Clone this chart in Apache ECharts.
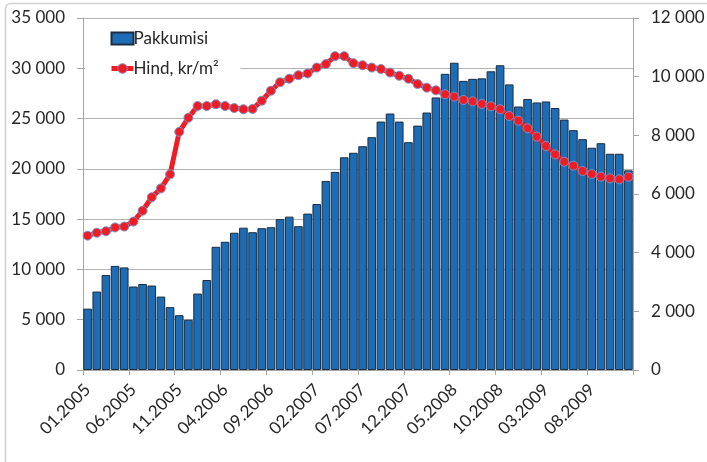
<!DOCTYPE html>
<html><head><meta charset="utf-8">
<script src="https://cdn.jsdelivr.net/npm/echarts@6/dist/echarts.min.js"></script>
<style>html,body{margin:0;padding:0;background:#fff}#c{width:707px;height:462px}</style>
</head><body><div id="c"></div>
<script>
const categories = [
 '01.2005','02.2005','03.2005','04.2005','05.2005','06.2005','07.2005','08.2005','09.2005','10.2005','11.2005','12.2005',
 '01.2006','02.2006','03.2006','04.2006','05.2006','06.2006','07.2006','08.2006','09.2006','10.2006','11.2006','12.2006',
 '01.2007','02.2007','03.2007','04.2007','05.2007','06.2007','07.2007','08.2007','09.2007','10.2007','11.2007','12.2007',
 '01.2008','02.2008','03.2008','04.2008','05.2008','06.2008','07.2008','08.2008','09.2008','10.2008','11.2008','12.2008',
 '01.2009','02.2009','03.2009','04.2009','05.2009','06.2009','07.2009','08.2009','09.2009','10.2009','11.2009','12.2009'];
const pakkumisi = [
 6100,7800,9450,10350,10200,8300,8550,8400,7300,6250,5450,5000,
 7600,8950,12250,12750,13650,14150,13700,14100,14200,15000,15250,14300,
 15550,16500,18800,19700,21150,21600,22250,23150,24700,25500,24700,22650,
 24300,25600,27100,29450,30550,28750,28950,29000,29700,30300,28400,26200,
 26950,26600,26700,26050,24900,23850,22950,22100,22550,21500,21500,19850];
const hind = [
 4580,4680,4730,4860,4890,5060,5430,5890,6190,6670,8120,8600,
 9000,9000,9060,9000,8930,8890,8900,9180,9520,9810,9930,10050,
 10110,10310,10430,10700,10700,10460,10390,10310,10260,10140,10030,9930,
 9750,9625,9535,9400,9320,9205,9160,9070,8990,8890,8660,8500,
 8240,7955,7635,7350,7100,6965,6785,6680,6590,6535,6500,6590];
const leftTicks = {min:0, max:35000, interval:5000};
const rightTicks = {min:0, max:12000, interval:2000};
const names = ['Pakkumisi','Hind, kr/m²'];

const fmt = v => String(v).replace(/\B(?=(\d{3})+(?!\d))/g, ' ');
const FONT = 'Lato';
const TXT = '#262626';
const chart = echarts.init(document.getElementById('c'), null, {renderer:'canvas'});
chart.setOption({
  animation:false,
  backgroundColor:'#fff',
  textStyle:{fontFamily:FONT},
  graphic:[{type:'rect', shape:{x:5.5,y:3.5,width:760,height:520,r:5}, style:{fill:null, stroke:'#d0d0d0', lineWidth:1.5}, silent:true, z:-10}],
  grid:{left:83, right:74, top:18, bottom:92, containLabel:false, outerBoundsMode:'none'},
  legend:{
    data:[{name:names[0], icon:'rect'}, {name:names[1], lineStyle:{width:5}, itemStyle:{borderWidth:1}}],
    orient:'vertical', left:85, top:22, itemGap:13,
    itemWidth:22, itemHeight:12,
    padding:[8,22,12,24],
    backgroundColor:'#fff',
    textStyle:{fontFamily:FONT, fontSize:17, color:TXT, padding:[0,0,0,-5]}
  },
  xAxis:{
    type:'category', data:categories, boundaryGap:true,
    axisLine:{lineStyle:{color:'#a6a6a6', width:1}},
    axisTick:{show:true, interval:4, length:5, lineStyle:{color:'#a6a6a6'}},
    axisLabel:{interval:4, rotate:45, fontSize:17, color:TXT, margin:17, fontFamily:FONT},
    splitLine:{show:false}
  },
  yAxis:[{
    type:'value', min:leftTicks.min, max:leftTicks.max, interval:leftTicks.interval,
    axisLine:{show:true, lineStyle:{color:'#a6a6a6'}},
    axisTick:{show:true, length:6, lineStyle:{color:'#a6a6a6'}},
    axisLabel:{formatter:fmt, fontSize:17, color:TXT, margin:18, fontFamily:FONT},
    splitLine:{show:true, lineStyle:{color:'#b3b3b3', width:1}}
  },{
    type:'value', min:rightTicks.min, max:rightTicks.max, interval:rightTicks.interval, position:'right',
    axisLine:{show:true, lineStyle:{color:'#a6a6a6'}},
    axisTick:{show:true, length:6, lineStyle:{color:'#a6a6a6'}},
    axisLabel:{formatter:fmt, fontSize:17, color:TXT, margin:18, fontFamily:FONT},
    splitLine:{show:false}
  }],
  series:[{
    name:names[0], type:'bar', data:pakkumisi, yAxisIndex:0,
    barCategoryGap:'6%',
    itemStyle:{color:'#1d6db6', borderColor:'#1b2c3f', borderWidth:1}
  },{
    name:names[1], type:'line', data:hind, yAxisIndex:1,
    symbol:'circle', symbolSize:9, showSymbol:true, showAllSymbol:true,
    lineStyle:{color:'#ee1c24', width:5},
    itemStyle:{color:'#ee1c24', borderColor:'#7b93c9', borderWidth:1},
    z:5
  }]
});
</script></body></html>
